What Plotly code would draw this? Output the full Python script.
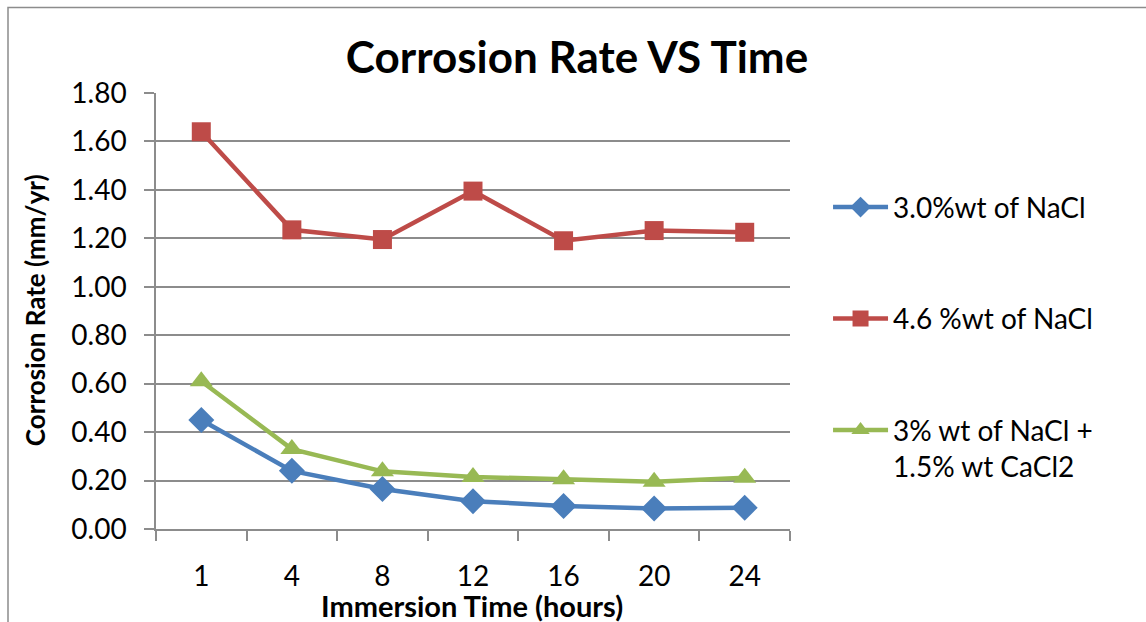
import plotly.graph_objects as go

# Immersion times (hours) and measured corrosion rates (mm/yr)
hours = ["1", "4", "8", "12", "16", "20", "24"]
nacl_30 = [0.45, 0.24, 0.165, 0.115, 0.095, 0.085, 0.088]
nacl_46 = [1.64, 1.235, 1.195, 1.395, 1.19, 1.232, 1.225]
nacl_cacl2 = [0.61, 0.33, 0.238, 0.215, 0.205, 0.195, 0.212]

series_names = ["3.0%wt of NaCl", "4.6 %wt of NaCl", "3% wt of NaCl +<br>1.5% wt CaCl2"]
series_colors = ["#4A7EBB", "#BE4B48", "#98B954"]
series_symbols = ["diamond", "square", "triangle-up"]
series_sizes = [20, 19, 20]

FONT = "Lato, 'Open Sans', sans-serif"
GRID = "#8C8C8C"

fig = go.Figure()
for i, (name, vals) in enumerate(zip(series_names, [nacl_30, nacl_46, nacl_cacl2])):
    fig.add_trace(go.Scatter(
        x=hours, y=vals, name=name, mode="lines+markers",
        legendgroup=f"g{i}",
        line=dict(color=series_colors[i], width=4.5),
        marker=dict(symbol=series_symbols[i], size=series_sizes[i], color=series_colors[i]),
    ))

fig.update_layout(
    width=1146, height=622,
    margin=dict(l=156, r=356, t=93, b=93),
    paper_bgcolor="white", plot_bgcolor="white",
    font=dict(family=FONT, color="black", size=28),
    title=dict(text="<b>Corrosion Rate VS Time</b>", x=577 / 1146, xref="container",
               xanchor="center", y=1 - 58 / 622, yref="container", yanchor="middle",
               font=dict(size=44, family=FONT, color="black")),
    showlegend=True,
    legend=dict(x=1.06, xanchor="left", y=0.795, yanchor="top",
                tracegroupgap=72, valign="top",
                font=dict(size=28, family=FONT, color="black"),
                bgcolor="rgba(0,0,0,0)", itemwidth=55),
    xaxis=dict(type="category", tickson="boundaries", showgrid=False,
               showline=True, linecolor=GRID, linewidth=1.5,
               ticks="outside", ticklen=10, tickcolor=GRID, tickwidth=1.5,
               ticklabelstandoff=22, tickfont=dict(size=28),
               range=[-0.5, 6.5]),
    yaxis=dict(range=[0, 1.8], tickvals=[0, 0.2, 0.4, 0.6, 0.8, 1.0, 1.2, 1.4, 1.6, 1.8],
               tickformat=".2f", showgrid=True, gridcolor=GRID, gridwidth=1.5,
               showline=True, linecolor=GRID, linewidth=1.5, zeroline=False,
               ticks="outside", ticklen=10, tickcolor=GRID, tickwidth=1.5,
               ticklabelstandoff=12, tickfont=dict(size=28)),
)

# Axis titles
fig.add_annotation(text="<b>Corrosion Rate (mm/yr)</b>", xref="paper", yref="paper",
                   x=(35 - 156) / 634, y=0.502, textangle=-90, showarrow=False,
                   xanchor="center", yanchor="middle",
                   font=dict(size=26, family=FONT, color="black"))
fig.add_annotation(text="<b>Immersion Time (hours)</b>", xref="paper", yref="paper",
                   x=(472 - 156) / 634, y=-(605 - 529) / 436, showarrow=False,
                   xanchor="center", yanchor="middle",
                   font=dict(size=29, family=FONT, color="black"))

# Outer chart border
fig.add_shape(type="rect", xref="paper", yref="paper",
              x0=(8 - 156) / 634, x1=(1160 - 156) / 634,
              y0=-(640 - 529) / 436, y1=1 + (93 - 7.5) / 436,
              line=dict(color="#8C8C8C", width=1.5), fillcolor="rgba(0,0,0,0)", layer="below")

fig.write_html("out.html")
